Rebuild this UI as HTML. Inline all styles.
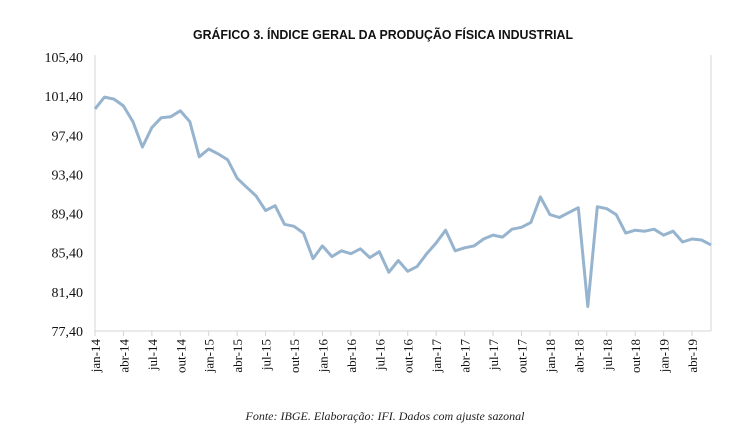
<!DOCTYPE html>
<html><head><meta charset="utf-8">
<style>
html,body{margin:0;padding:0;background:#fff;}
svg{display:block;}
</style></head>
<body>
<svg id="chart" width="748" height="437" viewBox="0 0 748 437" xmlns="http://www.w3.org/2000/svg">
  <text x="383" y="39" text-anchor="middle" font-family="'Liberation Sans', sans-serif" font-weight="bold" font-size="12.5" textLength="380" lengthAdjust="spacingAndGlyphs" fill="#111">GRÁFICO 3. ÍNDICE GERAL DA PRODUÇÃO FÍSICA INDUSTRIAL</text>
  <g id="yaxis"></g>
  <g id="xaxis"></g>
  <g id="series"></g>
  <text x="385" y="420" text-anchor="middle" font-family="'Liberation Serif', serif" font-style="italic" font-size="12" fill="#222">Fonte: IBGE. Elaboração: IFI. Dados com ajuste sazonal</text>
</svg>
<script>
const values = [100.1,101.3,101.1,100.4,98.8,96.2,98.2,99.2,99.3,99.9,98.8,95.2,
96.0,95.5,94.9,93.0,92.1,91.2,89.7,90.2,88.3,88.1,87.4,84.8,
86.1,85.0,85.6,85.3,85.8,84.9,85.5,83.4,84.6,83.5,84.0,85.3,
86.4,87.7,85.6,85.9,86.1,86.8,87.2,87.0,87.8,88.0,88.5,91.1,
89.3,89.0,89.5,90.0,79.9,90.1,89.9,89.3,87.4,87.7,87.6,87.8,
87.2,87.6,86.5,86.8,86.7,86.2];
const yTicks = [77.4,81.4,85.4,89.4,93.4,97.4,101.4,105.4];
const xLabels = ["jan-14","abr-14","jul-14","out-14","jan-15","abr-15","jul-15","out-15","jan-16","abr-16","jul-16","out-16","jan-17","abr-17","jul-17","out-17","jan-18","abr-18","jul-18","out-18","jan-19","abr-19"];

const NS="http://www.w3.org/2000/svg";
const L=95,R=711,T=57,B=331,yMin=77.4,yMax=105.4;
const n=values.length;
function xs(i){return L+i*(R-L)/(n-1);}
function ys(v){return B-(v-yMin)/(yMax-yMin)*(B-T);}
function mk(tag,attrs,parent){const e=document.createElementNS(NS,tag);for(const k in attrs)e.setAttribute(k,attrs[k]);parent.appendChild(e);return e;}

const ya=document.getElementById('yaxis');
const xa=document.getElementById('xaxis');
const sg=document.getElementById('series');
// plot frame lines
const al=mk('line',{x1:L,y1:T-2,x2:L,y2:B,stroke:'#d4d4d4','stroke-width':1},ya);


const rl=mk('line',{x1:R,y1:T-2,x2:R,y2:B,stroke:'#d4d4d4','stroke-width':1},ya);


const bl=mk('line',{x1:L,y1:B,x2:R,y2:B,stroke:'#d4d4d4','stroke-width':1},xa);



yTicks.forEach(v=>{
  const t=mk('text',{x:83,y:ys(v)+5,'text-anchor':'end','font-family':"'Liberation Serif', serif",'font-size':14,fill:'#111'},ya);
  t.textContent=v.toFixed(2).replace('.',',');
  
  
});
xLabels.forEach((lab,k)=>{
  const x=xs(k*3);
  const tk=mk('line',{x1:x,y1:B,x2:x,y2:B+5,stroke:'#d4d4d4','stroke-width':1},xa);
  
  
  const t=mk('text',{x:0,y:0,'text-anchor':'end','font-family':"'Liberation Serif', serif",'font-size':13,fill:'#111',transform:`translate(${x+5},${B+8}) rotate(-90)`},xa);
  t.textContent=lab;
  
  
});
const pts=values.map((v,i)=>xs(i).toFixed(1)+','+ys(v).toFixed(1)).join(' ');
const line=mk('polyline',{points:pts,fill:'none',stroke:'#97b4cf','stroke-width':3,'stroke-linejoin':'round'},sg);


</script>
</body></html>
